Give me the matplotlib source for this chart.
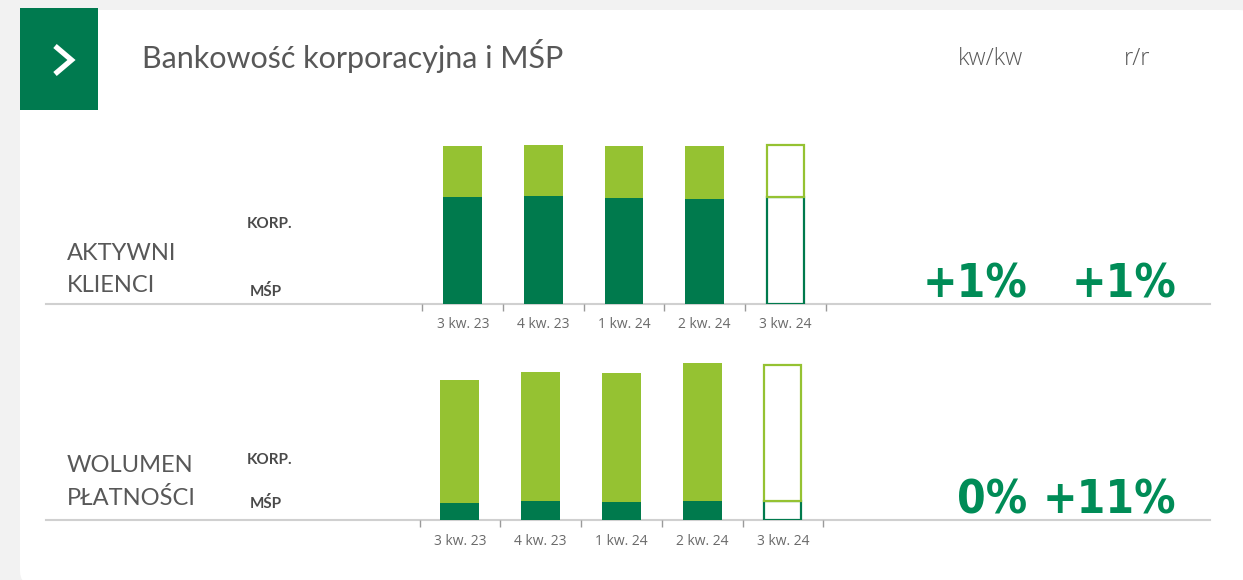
import matplotlib.pyplot as plt
from matplotlib import font_manager
from matplotlib.patches import FancyBboxPatch, Rectangle
import numpy as np

# data (arbitrary units, stacked: MŚP bottom, KORP. top)
quarters = ["3 kw. 23", "4 kw. 23", "1 kw. 24", "2 kw. 24", "3 kw. 24"]

klienci_msp = [106.7, 107.3, 106.0, 104.7, 106.7]
klienci_korp = [50.7, 51.0, 51.7, 52.7, 51.7]

wolumen_msp = [17.3, 19.0, 18.0, 19.0, 19.3]
wolumen_korp = [122.7, 128.7, 128.7, 137.7, 136.0]

klienci_changes = ["+1%", "+1%"]   # kw/kw, r/r
wolumen_changes = ["0%", "+11%"]

DARK = "#007a4d"
LIGHT = "#95c232"
PCT = "#008c57"
GREY_TXT = "#585858"
LINE = "#d0d0d0"

W, H = 1243, 580

fonts = font_manager.fontManager.ttflist
names = {f.name for f in fonts}
body_font = "Lato" if "Lato" in names else "DejaVu Sans"


def _wt(f):
    w = f.weight
    if isinstance(w, str):
        return font_manager.weight_dict.get(w, 400)
    return w


# a narrow bold face for the big numbers, if one is installed
narrow = [f for f in fonts
          if _wt(f) >= 600 and ("Narrow" in f.name or "Condensed" in f.fname
                                or f.stretch in ("condensed", "semi-condensed"))]
if narrow:
    big_prop = font_manager.FontProperties(fname=narrow[0].fname, size=33)
else:
    big_prop = font_manager.FontProperties(family=body_font, weight="heavy", size=33)

fig = plt.figure(figsize=(W / 100, H / 100), dpi=100, facecolor="#f2f2f2")

# overlay axes in pixel coordinates
ax0 = fig.add_axes([0, 0, 1, 1])
ax0.set_xlim(0, W)
ax0.set_ylim(H, 0)
ax0.axis("off")

card = FancyBboxPatch((20, 10), W + 10 - 20, H + 5 - 10,
                      boxstyle="round,pad=0,rounding_size=14",
                      facecolor="white", edgecolor="none")
ax0.add_patch(card)
ax0.add_patch(Rectangle((20, 8), 78, 102, facecolor="#007a4f", edgecolor="none"))
ax0.plot([55, 71.5, 55], [46, 60, 74], color="white", lw=3.8,
         solid_capstyle="butt", solid_joinstyle="miter")

ax0.text(142, 56, "Bankowość korporacyjna i MŚP", fontsize=22, color=GREY_TXT,
         family=body_font, va="center", ha="left")
ax0.text(991, 59, "kw/kw", fontsize=17, color="#595959", family="Open Sans",
         fontweight="light", va="center", ha="center")
ax0.text(1137, 59, "r/r", fontsize=17, color="#595959", family="Open Sans",
         fontweight="light", va="center", ha="center")

# row labels
for y1, y2, t1, t2, yk, ym in [(253, 285, "AKTYWNI", "KLIENCI", 224, 291),
                               (466, 498, "WOLUMEN", "PŁATNOŚCI", 460, 504)]:
    ax0.text(67, y1, t1, fontsize=17, color=GREY_TXT, family=body_font, va="center")
    ax0.text(67, y2, t2, fontsize=17, color=GREY_TXT, family=body_font, va="center")
    ax0.text(247, yk, "KORP.", fontsize=11, color="#4a4a4a", family=body_font,
             fontweight="bold", va="center")
    ax0.text(250, ym, "MŚP", fontsize=11, color="#4a4a4a", family=body_font,
             fontweight="bold", va="center")

# baselines
for yb in (303.5, 520):
    ax0.plot([46, 1210], [yb, yb], color=LINE, lw=1.5, zorder=1)

# percentages
for yb, vals in [(297, klienci_changes), (514, wolumen_changes)]:
    for xr, v in zip((1027, 1176), vals):
        ax0.text(xr, yb, v, fontproperties=big_prop, color=PCT,
                 ha="right", va="baseline")


def bar_panel(left, right, base, msp, korp):
    height = 165
    ax = fig.add_axes([left / W, (H - base) / H, (right - left) / W, height / H])
    ax.set_facecolor("none")
    x = np.arange(len(quarters))
    n = len(quarters)
    ax.bar(x[:-1], msp[:-1], width=0.48, color=DARK, edgecolor="none", zorder=3)
    ax.bar(x[:-1], korp[:-1], bottom=msp[:-1], width=0.48, color=LIGHT,
           edgecolor="none", zorder=3)
    # latest quarter drawn as outline only
    ax.bar(x[-1:], msp[-1:], width=0.46, facecolor="white", edgecolor=DARK,
           linewidth=1.6, zorder=3)
    ax.bar(x[-1:], korp[-1:], bottom=msp[-1:], width=0.46, facecolor="white",
           edgecolor=LIGHT, linewidth=1.6, zorder=3)
    ax.set_xlim(-0.5, n - 0.5)
    ax.set_ylim(0, height)
    for s in ax.spines.values():
        s.set_visible(False)
    ax.set_yticks([])
    ax.set_xticks(x)
    ax.set_xticklabels(quarters, fontsize=10, color="#6a6a6a", family="Open Sans")
    ax.tick_params(axis="x", which="major", length=0, pad=10)
    ax.set_xticks(np.arange(n + 1) - 0.5, minor=True)
    ax.tick_params(axis="x", which="minor", length=5, width=1, color="#9a9a9a")
    return ax


bar_panel(422.5, 825.5, 303.5, klienci_msp, klienci_korp)
bar_panel(419.5, 823.3, 520, wolumen_msp, wolumen_korp)

fig.savefig("out.png", dpi=100, facecolor=fig.get_facecolor())
